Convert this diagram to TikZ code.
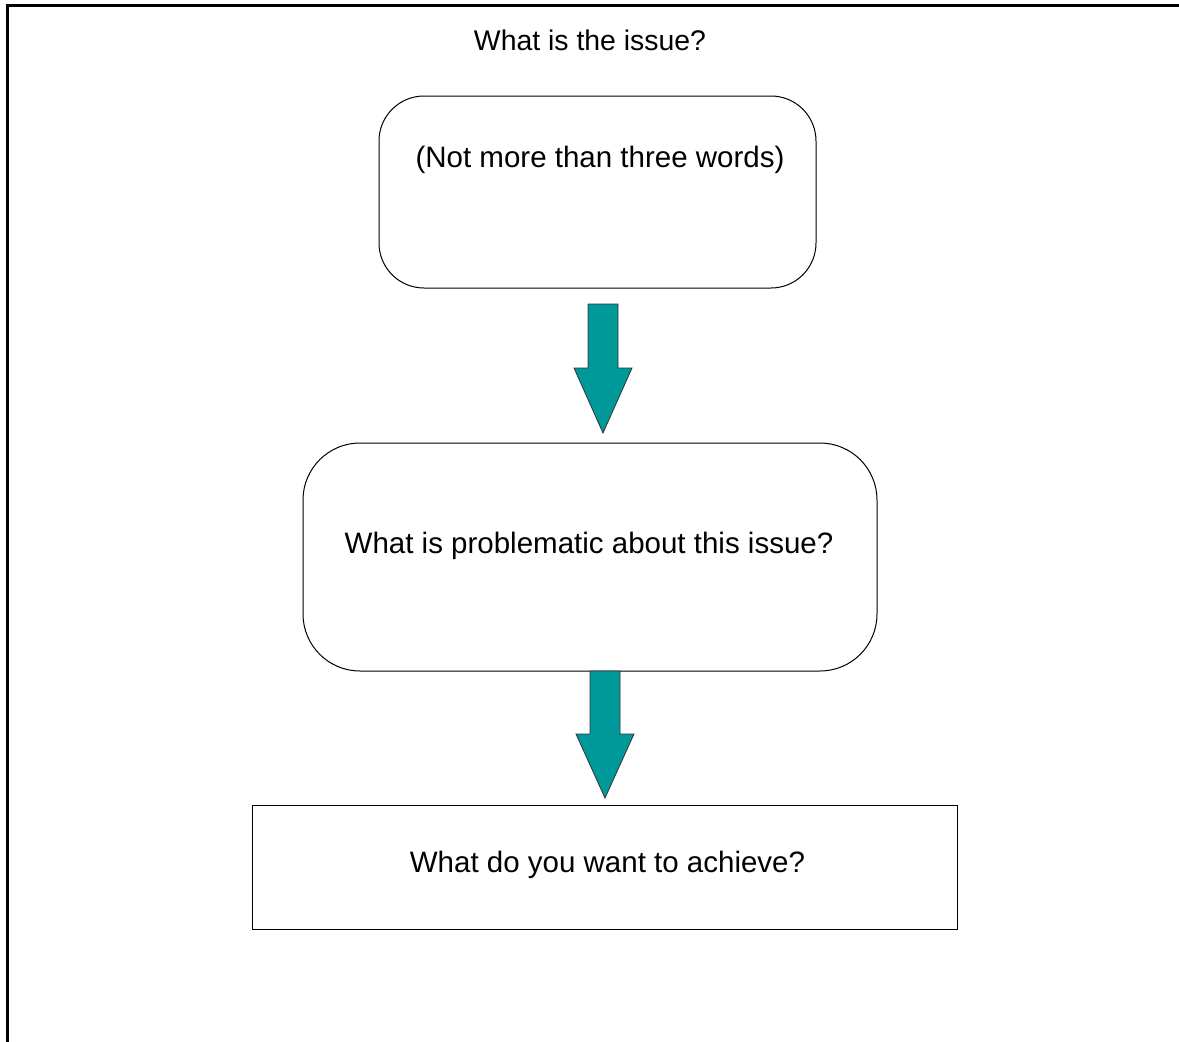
\documentclass[tikz,border=0pt]{standalone}
\usepackage{fontspec}
\setmainfont{Liberation Sans}
\begin{document}
\begin{tikzpicture}[x=1pt,y=-1pt,
  lbl/.style={font=\fontsize{29.5}{35}\selectfont, inner sep=0pt, anchor=center},
  ttl/.style={font=\fontsize{28.4}{34}\selectfont, inner sep=0pt, anchor=center},
  rbox/.style={draw=black, line width=1pt, rounded corners=#1, inner sep=0pt},
  flowarrow/.style={fill=arrowteal, draw=black!80, line width=0.8pt, line join=miter}
]
\definecolor{arrowteal}{HTML}{009999}
\useasboundingbox (0,0) rectangle (1179,1042);
% frame
\draw[line width=3pt] (7,1042) -- (7,5.5) -- (1179,5.5);
% title
\node[ttl] (title) at (590,40) {What is the issue?};
% boxes
\node[rbox=45pt, minimum width=437pt, minimum height=192pt] (b1) at (597.5,192) {};
\node[lbl] (t1) at (600,160) {(Not more than three words)};
\node[rbox=57pt, minimum width=574pt, minimum height=228pt] (b2) at (590,557) {};
\node[lbl] (t2) at (589,546) {What is problematic about this issue?};
\node[rbox=0pt, minimum width=705pt, minimum height=124pt] (b3) at (604.5,867) {};
\node[lbl] (t3) at (607.5,865) {What do you want to achieve?};
% arrows
\draw[flowarrow] (588,304) -- (618,304) -- (618,368) -- (632,368) -- (603,433) -- (574,368) -- (588,368) -- cycle;
\draw[flowarrow] (590,671) -- (620,671) -- (620,734) -- (634,734) -- (605,798) -- (576,734) -- (590,734) -- cycle;
\end{tikzpicture}
\end{document}
